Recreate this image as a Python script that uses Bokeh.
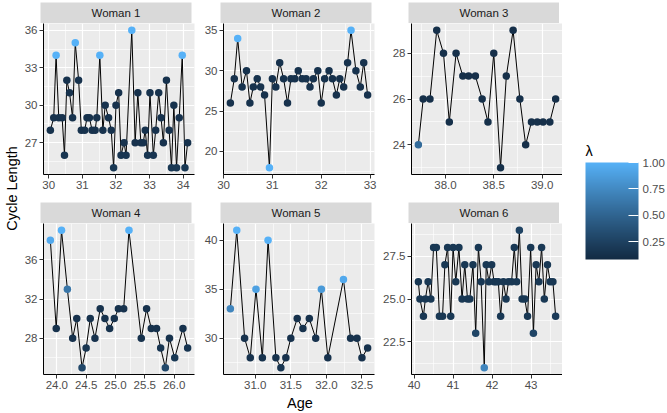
import math
from bokeh.plotting import figure
from bokeh.models import (Range1d, FixedTicker, LinearColorMapper, ColorBar,
                          ColumnDataSource, PrintfTickFormatter)
from bokeh.layouts import row, column
from bokeh.embed import file_html
from bokeh.resources import INLINE
from bokeh.core.properties import value

FONT = "Liberation Sans"

# ---------------- data ----------------
women = ["Woman 1", "Woman 2", "Woman 3", "Woman 4", "Woman 5", "Woman 6"]

w1_age = [30.05, 30.15, 30.22, 30.30, 30.40, 30.47, 30.54, 30.62, 30.71, 30.79,
          30.89, 30.97, 31.07, 31.14, 31.21, 31.29, 31.38, 31.43, 31.52, 31.61,
          31.68, 31.78, 31.86, 31.93, 32.00, 32.08, 32.15, 32.24, 32.30, 32.47,
          32.57, 32.65, 32.74, 32.81, 32.87, 32.94, 33.01, 33.11, 33.18, 33.27,
          33.34, 33.41, 33.50, 33.58, 33.65, 33.72, 33.80, 33.88, 33.97, 34.05, 34.13]
w1_len = [28, 29, 34, 29, 29, 26, 32, 31, 29, 35,
          32, 28, 28, 29, 29, 28, 28, 29, 34, 28,
          30, 29, 28, 25, 30, 31, 26, 27, 26, 36,
          27, 31, 27, 27, 28, 26, 31, 26, 28, 31,
          29, 27, 32, 28, 25, 30, 25, 29, 34, 25, 27]
w1_lam = [0.14, 0.14, 1.00, 0.14, 0.14, 0.16, 0.14, 0.14, 0.14, 1.00,
          0.14, 0.14, 0.14, 0.14, 0.14, 0.14, 0.14, 0.14, 1.00, 0.14,
          0.14, 0.14, 0.14, 0.18, 0.14, 0.14, 0.16, 0.14, 0.16, 1.00,
          0.14, 0.14, 0.14, 0.14, 0.14, 0.16, 0.14, 0.16, 0.14, 0.14,
          0.14, 0.14, 0.14, 0.14, 0.18, 0.14, 0.18, 0.14, 1.00, 0.18, 0.14]

w2_age = [30.14, 30.22, 30.29, 30.38, 30.47, 30.54, 30.61, 30.69, 30.76, 30.84,
          30.94, 31.00, 31.07, 31.15, 31.23, 31.31, 31.38, 31.46, 31.53, 31.61,
          31.69, 31.77, 31.84, 31.93, 32.00, 32.07, 32.16, 32.23, 32.31, 32.38,
          32.46, 32.54, 32.61, 32.71, 32.80, 32.87, 32.95]
w2_len = [26, 29, 34, 28, 30, 26, 28, 29, 28, 27,
          18, 29, 28, 31, 29, 26, 29, 29, 30, 29,
          29, 28, 29, 30, 26, 29, 30, 29, 27, 29,
          28, 31, 35, 30, 28, 31, 27]
w2_lam = [0.14, 0.14, 1.00, 0.14, 0.14, 0.14, 0.14, 0.14, 0.14, 0.14,
          1.00, 0.14, 0.14, 0.14, 0.14, 0.14, 0.14, 0.14, 0.14, 0.14,
          0.14, 0.14, 0.14, 0.14, 0.14, 0.14, 0.14, 0.14, 0.14, 0.14,
          0.14, 0.14, 1.00, 0.14, 0.14, 0.14, 0.14]

w3_age = [37.72, 37.77, 37.84, 37.91, 37.98, 38.04, 38.11, 38.18, 38.24, 38.31,
          38.38, 38.44, 38.50, 38.57, 38.63, 38.70, 38.77, 38.83, 38.89, 38.95,
          39.01, 39.08, 39.14]
w3_len = [24, 26, 26, 29, 28, 25, 28, 27, 27, 27,
          26, 25, 28, 23, 27, 29, 26, 24, 25, 25,
          25, 25, 26]
w3_lam = [0.55, 0.12, 0.12, 0.12, 0.12, 0.12, 0.12, 0.12, 0.12, 0.12,
          0.12, 0.12, 0.12, 0.12, 0.12, 0.12, 0.12, 0.12, 0.12, 0.12,
          0.12, 0.12, 0.12]

w4_age = [23.89, 23.99, 24.08, 24.18, 24.27, 24.34, 24.43, 24.50, 24.57, 24.65,
          24.74, 24.82, 24.90, 24.98, 25.05, 25.14, 25.23, 25.44, 25.53, 25.61,
          25.70, 25.77, 25.85, 25.92, 26.01, 26.15, 26.23]
w4_len = [38, 29, 39, 33, 28, 30, 25, 27, 30, 28,
          31, 30, 29, 30, 31, 31, 39, 28, 31, 29,
          29, 27, 25, 28, 26, 29, 27]
w4_lam = [0.95, 0.14, 1.00, 0.62, 0.14, 0.14, 0.30, 0.16, 0.14, 0.14,
          0.14, 0.14, 0.14, 0.14, 0.14, 0.14, 1.00, 0.14, 0.14, 0.14,
          0.14, 0.16, 0.30, 0.14, 0.18, 0.14, 0.16]

w5_age = [30.65, 30.74, 30.85, 30.93, 31.01, 31.10, 31.18, 31.29, 31.36, 31.43,
          31.50, 31.59, 31.67, 31.76, 31.85, 31.93, 32.02, 32.24, 32.34, 32.43,
          32.50, 32.58]
w5_len = [33, 41, 30, 28, 35, 28, 40, 28, 27, 28,
          30, 32, 31, 32, 30, 35, 28, 36, 30, 30,
          28, 29]
w5_lam = [0.72, 1.00, 0.14, 0.14, 0.90, 0.14, 1.00, 0.14, 0.16, 0.14,
          0.14, 0.14, 0.14, 0.14, 0.14, 0.85, 0.14, 0.95, 0.14, 0.14,
          0.14, 0.14]

w6_age = [40.11, 40.15, 40.24, 40.29, 40.36, 40.43, 40.50, 40.57, 40.65, 40.73,
          40.79, 40.86, 40.94, 41.00, 41.07, 41.15, 41.23, 41.30, 41.37, 41.43,
          41.51, 41.58, 41.65, 41.72, 41.80, 41.85, 41.92, 41.99, 42.05, 42.10,
          42.16, 42.22, 42.29, 42.36, 42.42, 42.50, 42.57, 42.63, 42.70, 42.77,
          42.84, 42.91, 42.99, 43.06, 43.13, 43.20, 43.27, 43.34, 43.42, 43.49,
          43.56, 43.63]
w6_len = [26, 25, 24, 25, 26, 25, 28, 28, 24, 24,
          27, 28, 24, 28, 26, 28, 25, 27, 25, 25,
          27, 23, 28, 26, 21, 27, 26, 27, 26, 26,
          26, 24, 26, 25, 26, 26, 28, 26, 29, 25,
          25, 24, 28, 23, 27, 26, 28, 25, 27, 26,
          26, 24]
w6_lam = [0.18, 0.18, 0.18, 0.18, 0.18, 0.18, 0.18, 0.18, 0.18, 0.18,
          0.18, 0.18, 0.18, 0.18, 0.18, 0.18, 0.18, 0.18, 0.18, 0.18,
          0.18, 0.28, 0.18, 0.18, 0.72, 0.18, 0.18, 0.18, 0.18, 0.18,
          0.18, 0.18, 0.18, 0.18, 0.18, 0.18, 0.18, 0.18, 0.26, 0.18,
          0.18, 0.18, 0.18, 0.28, 0.18, 0.18, 0.18, 0.18, 0.18, 0.18,
          0.18, 0.20]

w1_xticks = [30, 31, 32, 33, 34]
w1_yticks = [27, 30, 33, 36]
w2_xticks = [30, 31, 32, 33]
w2_yticks = [20, 25, 30, 35]
w3_xticks = [38.0, 38.5, 39.0]
w3_yticks = [24, 26, 28]
w4_xticks = [24.0, 24.5, 25.0, 25.5, 26.0]
w4_yticks = [28, 32, 36]
w5_xticks = [31.0, 31.5, 32.0, 32.5]
w5_yticks = [30, 35, 40]
w6_xticks = [40, 41, 42, 43]
w6_yticks = [22.5, 25.0, 27.5]

lam_ticks = [0.25, 0.50, 0.75, 1.00]
lam_low, lam_high = 0.08, 1.00

# ---------------- palette (ggplot default gradient, Lab interpolation) ----------------
def _hex_to_lab(h):
    r, g, b = [int(h[i:i + 2], 16) / 255 for i in (1, 3, 5)]
    def lin(c):
        return c / 12.92 if c <= 0.04045 else ((c + 0.055) / 1.055) ** 2.4
    r, g, b = lin(r), lin(g), lin(b)
    X = (0.4124 * r + 0.3576 * g + 0.1805 * b) / 0.95047
    Y = (0.2126 * r + 0.7152 * g + 0.0722 * b)
    Z = (0.0193 * r + 0.1192 * g + 0.9505 * b) / 1.08883
    def f(t):
        return t ** (1 / 3) if t > 0.008856 else 7.787 * t + 16 / 116
    fx, fy, fz = f(X), f(Y), f(Z)
    return 116 * fy - 16, 500 * (fx - fy), 200 * (fy - fz)


def _lab_to_hex(L, a, b):
    fy = (L + 16) / 116
    fx = fy + a / 500
    fz = fy - b / 200
    def finv(t):
        return t ** 3 if t ** 3 > 0.008856 else (t - 16 / 116) / 7.787
    X, Y, Z = finv(fx) * 0.95047, finv(fy), finv(fz) * 1.08883
    r = 3.2406 * X - 1.5372 * Y - 0.4986 * Z
    g = -0.9689 * X + 1.8758 * Y + 0.0415 * Z
    bb = 0.0557 * X - 0.2040 * Y + 1.0570 * Z
    def gam(c):
        c = max(0.0, min(1.0, c))
        return 12.92 * c if c <= 0.0031308 else 1.055 * c ** (1 / 2.4) - 0.055
    return "#%02x%02x%02x" % tuple(int(round(gam(c) * 255)) for c in (r, g, bb))


lo_lab, hi_lab = _hex_to_lab("#132B43"), _hex_to_lab("#56B1F7")
palette = [_lab_to_hex(*[lo_lab[k] + (hi_lab[k] - lo_lab[k]) * i / 255 for k in range(3)])
           for i in range(256)]
mapper = LinearColorMapper(palette=palette, low=lam_low, high=lam_high)

# ---------------- layout constants ----------------
FW, FH = 151, 151
STRIP_H = 21
TOP_PAD = 2
LEFT = [19, 23, 31]
RIGHT = [6, 6, 0]
BOTTOM = [28, 19]
TICK_FS = "11.5px"


def expand(vals):
    lo, hi = min(vals), max(vals)
    d = (hi - lo) * 0.05
    return Range1d(lo - d, hi + d)


def minors(ticks, rng):
    step = ticks[1] - ticks[0]
    cand = [ticks[0] - step / 2] + [t + step / 2 for t in ticks]
    return [m for m in cand if rng.start <= m <= rng.end]


def style_axis(ax, fmt):
    ax.axis_line_color = "black"
    ax.axis_line_width = 1
    ax.major_tick_line_color = "#333333"
    ax.major_tick_out = 4
    ax.major_tick_in = 0
    ax.minor_tick_line_color = None
    ax.major_label_text_color = "#4D4D4D"
    ax.major_label_text_font = FONT
    ax.major_label_text_font_size = TICK_FS
    ax.major_label_standoff = 2
    ax.formatter = PrintfTickFormatter(format=fmt)


def panel(age, cyc, lam, xticks, yticks, xfmt, yfmt, col, rowi):
    xr, yr = expand(age), expand(cyc)
    p = figure(frame_width=FW, frame_height=FH, x_range=xr, y_range=yr,
               toolbar_location=None, output_backend="svg",
               min_border_left=LEFT[col], min_border_right=RIGHT[col],
               min_border_top=0, min_border_bottom=BOTTOM[rowi])
    p.background_fill_color = "#EBEBEB"
    p.border_fill_color = "white"
    p.outline_line_color = None
    p.xaxis.ticker = FixedTicker(ticks=xticks, minor_ticks=minors(xticks, xr))
    p.yaxis.ticker = FixedTicker(ticks=yticks, minor_ticks=minors(yticks, yr))
    style_axis(p.xaxis[0], xfmt)
    style_axis(p.yaxis[0], yfmt)
    for g in (p.xgrid[0], p.ygrid[0]):
        g.grid_line_color = "white"
        g.grid_line_width = 1.2
        g.minor_grid_line_color = "white"
        g.minor_grid_line_width = 0.6
    src = ColumnDataSource(dict(age=age, cyc=cyc, lam=lam))
    p.line("age", "cyc", source=src, line_color="black", line_width=1)
    p.scatter("age", "cyc", source=src, size=7.5, line_color=None,
              fill_color={"field": "lam", "transform": mapper})
    return p


def strip(label, col, top):
    s = figure(frame_width=FW, frame_height=STRIP_H, x_range=Range1d(0, 1), y_range=Range1d(0, 1),
               toolbar_location=None, output_backend="svg",
               x_axis_location=None, y_axis_location=None,
               min_border_left=LEFT[col], min_border_right=RIGHT[col],
               min_border_top=top, min_border_bottom=0)
    s.grid.visible = False
    s.outline_line_color = None
    s.background_fill_color = "#D9D9D9"
    s.border_fill_color = "white"
    s.text(x=[0.5], y=[0.5], text=[label], text_align="center", text_baseline="middle",
           text_font=value(FONT), text_font_size="11.5px", text_color="#1A1A1A")
    return s


cfg = [
    (w1_age, w1_len, w1_lam, w1_xticks, w1_yticks, "%d", "%d"),
    (w2_age, w2_len, w2_lam, w2_xticks, w2_yticks, "%d", "%d"),
    (w3_age, w3_len, w3_lam, w3_xticks, w3_yticks, "%.1f", "%d"),
    (w4_age, w4_len, w4_lam, w4_xticks, w4_yticks, "%.1f", "%d"),
    (w5_age, w5_len, w5_lam, w5_xticks, w5_yticks, "%.1f", "%d"),
    (w6_age, w6_len, w6_lam, w6_xticks, w6_yticks, "%d", "%.1f"),
]

strips, panels = [], []
for i, (a, c, l, xt, yt, xf, yf) in enumerate(cfg):
    col, rowi = i % 3, i // 3
    strips.append(strip(women[i], col, TOP_PAD if rowi == 0 else 0))
    panels.append(panel(a, c, l, xt, yt, xf, yf, col, rowi))

grid_w = sum(LEFT) + sum(RIGHT) + 3 * FW
AGE_H = 18
total_h = TOP_PAD + 2 * (STRIP_H + FH) + sum(BOTTOM) + AGE_H

# x axis title
age_fig = figure(width=grid_w, height=AGE_H, x_range=Range1d(0, grid_w), y_range=Range1d(0, AGE_H),
                 toolbar_location=None, output_backend="svg",
                 x_axis_location=None, y_axis_location=None, min_border=0)
age_fig.grid.visible = False
age_fig.outline_line_color = None
age_fig.text(x=[(LEFT[0] + grid_w) / 2], y=[AGE_H / 2], text=["Age"], text_align="center",
             text_baseline="middle", text_font=value(FONT), text_font_size="14.5px", text_color="black")

# y axis title
YL_W = 21
ylab = figure(width=YL_W, height=total_h, x_range=Range1d(0, YL_W), y_range=Range1d(0, total_h),
              toolbar_location=None, output_backend="svg",
              x_axis_location=None, y_axis_location=None, min_border=0)
ylab.grid.visible = False
ylab.outline_line_color = None
panel_span = 2 * (STRIP_H + FH) + BOTTOM[0]
ylab.text(x=[11], y=[total_h - TOP_PAD - panel_span / 2], text=["Cycle Length"], angle=math.pi / 2,
          text_align="center", text_baseline="middle", text_font=value(FONT),
          text_font_size="14.5px", text_color="black")

# legend
LEG_W = 665 - YL_W - grid_w
BAR_X, BAR_Y, BAR_W, BAR_H = 23, 152, 53, 97
leg = figure(width=LEG_W, height=total_h, x_range=Range1d(0, LEG_W), y_range=Range1d(0, total_h),
             toolbar_location=None, output_backend="svg",
             x_axis_location=None, y_axis_location=None, min_border=0)
leg.grid.visible = False
leg.outline_line_color = None
cb = ColorBar(color_mapper=mapper, ticker=FixedTicker(ticks=lam_ticks),
              formatter=PrintfTickFormatter(format="%.2f"),
              width=BAR_W, height=BAR_H, location=(BAR_X, BAR_Y), orientation="vertical",
              padding=0, margin=0,
              major_label_text_font_size=TICK_FS, major_label_text_color="#4D4D4D",
              major_label_text_font=FONT,
              major_tick_line_color="white", major_tick_in=10, major_tick_out=0,
              minor_tick_line_color=None, label_standoff=4,
              bar_line_color=None, background_fill_color=None, border_line_color=None)
leg.add_layout(cb, "center")
leg.text(x=[BAR_X], y=[BAR_Y + BAR_H + 12], text=["λ"], text_align="left",
         text_baseline="middle", text_font=value(FONT), text_font_size="14.5px", text_color="black")

grid = column(row(*strips[:3]), row(*panels[:3]), row(*strips[3:]), row(*panels[3:]), age_fig)
layout = row(ylab, grid, leg)

open("out.html", "w").write(file_html(layout, INLINE))
